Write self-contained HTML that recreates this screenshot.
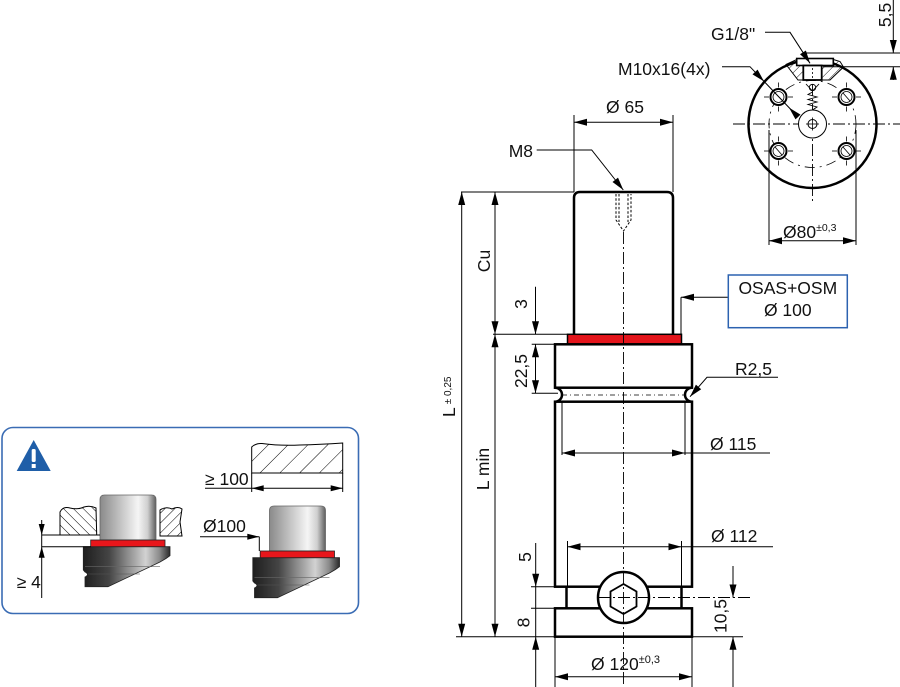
<!DOCTYPE html>
<html><head><meta charset="utf-8"><style>
html,body{margin:0;padding:0;background:#fff;}
svg{display:block;}
text{font-family:"Liberation Sans",sans-serif;fill:#111;font-size:17.5px;}
</style></head><body>
<svg width="900" height="687" viewBox="0 0 900 687" xmlns="http://www.w3.org/2000/svg">
<defs>
 <linearGradient id="rodG" x1="0" x2="1" y1="0" y2="0">
  <stop offset="0" stop-color="#8a8a8a"/><stop offset="0.2" stop-color="#a9a9a9"/><stop offset="0.68" stop-color="#f5f5f5"/><stop offset="0.85" stop-color="#cfcfcf"/><stop offset="1" stop-color="#5e5e5e"/>
 </linearGradient>
 <linearGradient id="bodyG" x1="0" x2="1" y1="0" y2="0">
  <stop offset="0" stop-color="#1e1e1e"/><stop offset="0.3" stop-color="#454545"/><stop offset="0.72" stop-color="#d2d2d2"/><stop offset="0.88" stop-color="#8a8a8a"/><stop offset="1" stop-color="#2a2a2a"/>
 </linearGradient>
 <pattern id="hL" width="7" height="7" patternUnits="userSpaceOnUse" patternTransform="rotate(-45)"><line x1="0" y1="0" x2="0" y2="7" stroke="#000" stroke-width="1"/></pattern>
 <pattern id="hR" width="7" height="7" patternUnits="userSpaceOnUse" patternTransform="rotate(45)"><line x1="0" y1="0" x2="0" y2="7" stroke="#000" stroke-width="1"/></pattern>
 <pattern id="hBig" width="14" height="14" patternUnits="userSpaceOnUse" patternTransform="rotate(45)"><line x1="0" y1="0" x2="0" y2="14" stroke="#000" stroke-width="1"/></pattern>
 <pattern id="hPort" width="6" height="6" patternUnits="userSpaceOnUse" patternTransform="rotate(45)"><line x1="0" y1="0" x2="0" y2="6" stroke="#000" stroke-width="0.9"/></pattern>
</defs>

<!-- ================= MAIN CYLINDER ================= -->
<g fill="none" stroke="#000">
 <path d="M574,334.3 L574,198 Q574,192 580,192 L667,192 Q673,192 673,198 L673,334.3" stroke-width="2.5" fill="#fff"/>
 <path d="M616,194 L616,220 L623.5,231 L631,220 L631,194 M619,194 L619,222 M628,194 L628,222" stroke-width="1" stroke-dasharray="2.5 1.8"/>
 <rect x="567.5" y="334.3" width="114" height="10" fill="#e4151c" stroke-width="1.5"/>
 <rect x="555" y="344.3" width="137" height="43.4" fill="#fff" stroke-width="2.5"/>
 <path d="M555,387.7 A7,7 0 0 1 555,401.7" stroke-width="2.5"/>
 <path d="M692,387.7 A7,7 0 0 0 692,401.7" stroke-width="2.5"/>
 <line x1="562" y1="395" x2="685" y2="395" stroke-width="0.8" stroke-dasharray="5 3 1 3"/>
 <rect x="555" y="401.7" width="137" height="185" fill="#fff" stroke-width="2.5"/>
 <line x1="566.5" y1="586.7" x2="566.5" y2="608.3" stroke-width="2.5"/>
 <line x1="681.5" y1="586.7" x2="681.5" y2="608.3" stroke-width="2.5"/>
 <rect x="555" y="608.3" width="137" height="28.4" fill="#fff" stroke-width="2.5"/>
 <circle cx="623.5" cy="597.5" r="25.5" fill="#fff" stroke-width="2.5"/>
 <polygon points="623.5,584 636.5,591.5 636.5,606.5 623.5,614 610.5,606.5 610.5,591.5" stroke-width="1.8"/>
 <line x1="623.5" y1="232" x2="623.5" y2="687" stroke-width="0.9" stroke-dasharray="12 3 2 3"/>
 <line x1="598" y1="597.5" x2="752" y2="597.5" stroke-width="0.9" stroke-dasharray="12 3 2 3"/>
</g>

<g stroke="#000" stroke-width="1" fill="none">
 <line x1="574" y1="115" x2="574" y2="192"/>
 <line x1="673" y1="115" x2="673" y2="192"/>
 <line x1="574" y1="122.3" x2="673" y2="122.3"/>
 <polyline points="536.7,150 591.7,150 623.3,190"/>
 <line x1="461" y1="192" x2="574" y2="192"/>
 <line x1="456" y1="636.7" x2="555" y2="636.7"/>
 <line x1="692" y1="636.7" x2="743" y2="636.7"/>
 <line x1="461.7" y1="192" x2="461.7" y2="636.7"/>
 <line x1="495" y1="192" x2="495" y2="636.7"/>
 <line x1="493" y1="334.3" x2="567.5" y2="334.3"/>
 <line x1="535.5" y1="286.7" x2="535.5" y2="334.3"/>
 <line x1="535.5" y1="344.3" x2="535.5" y2="393.3"/>
 <line x1="531.7" y1="344.3" x2="555" y2="344.3"/>
 <line x1="531.7" y1="393.3" x2="558" y2="393.3"/>
 <line x1="728" y1="297.3" x2="681" y2="297.3"/>
 <line x1="681" y1="297.3" x2="681" y2="334.3"/>
 <polyline points="778,377.3 707,377.3 690,396.7"/>
 <line x1="562" y1="401.7" x2="562" y2="455"/>
 <line x1="685" y1="401.7" x2="685" y2="455"/>
 <line x1="562" y1="453" x2="770" y2="453"/>
 <line x1="567.5" y1="541" x2="567.5" y2="587"/>
 <line x1="681.5" y1="541" x2="681.5" y2="587"/>
 <line x1="567.5" y1="546.7" x2="773" y2="546.7"/>
 <line x1="535.7" y1="543" x2="535.7" y2="687"/>
 <line x1="531" y1="586.7" x2="555" y2="586.7"/>
 <line x1="531" y1="608.3" x2="555" y2="608.3"/>
 <line x1="733" y1="566" x2="733" y2="597.5"/>
 <line x1="733" y1="636.7" x2="733" y2="687"/>
 <line x1="555" y1="637" x2="555" y2="687"/>
 <line x1="692" y1="637" x2="692" y2="687"/>
 <line x1="555" y1="676.7" x2="692" y2="676.7"/>
</g>

<g fill="#000" stroke="none">
 <polygon points="574,122.3 587,118.8 587,125.8"/>
 <polygon points="673,122.3 660,118.8 660,125.8"/>
 <polygon points="623.3,190 618,177.6 612.5,182"/>
 <polygon points="461.7,192 458.2,205 465.2,205"/>
 <polygon points="461.7,636.7 458.2,623.7 465.2,623.7"/>
 <polygon points="495,192 491.5,205 498.5,205"/>
 <polygon points="495,334.3 491.5,321.3 498.5,321.3"/>
 <polygon points="495,334.3 491.5,347.3 498.5,347.3"/>
 <polygon points="495,636.7 491.5,623.7 498.5,623.7"/>
 <polygon points="535.5,334.3 532,321.3 539,321.3"/>
 <polygon points="535.5,344.3 532,357.3 539,357.3"/>
 <polygon points="535.5,393.3 532,380.3 539,380.3"/>
 <polygon points="681,297.3 694,293.8 694,300.8"/>
 <polygon points="690,396.7 701.2,389.2 695.9,384.6"/>
 <polygon points="562,453 575,449.5 575,456.5"/>
 <polygon points="685,453 672,449.5 672,456.5"/>
 <polygon points="567.5,546.7 580.5,543.2 580.5,550.2"/>
 <polygon points="681.5,546.7 668.5,543.2 668.5,550.2"/>
 <polygon points="535.7,586.7 532.2,573.7 539.2,573.7"/>
 <polygon points="535.7,636.7 532.2,649.7 539.2,649.7"/>
 <polygon points="733,597.5 729.5,584.5 736.5,584.5"/>
 <polygon points="733,636.7 729.5,649.7 736.5,649.7"/>
 <polygon points="555,676.7 568,673.2 568,680.2"/>
 <polygon points="692,676.7 679,673.2 679,680.2"/>
</g>

<rect x="728.3" y="275" width="119" height="52.7" fill="#fff" stroke="#2c62b0" stroke-width="1.5"/>

<text x="625" y="113" text-anchor="middle">Ø 65</text>
<text x="533" y="157" text-anchor="end">M8</text>
<text x="787.8" y="294" text-anchor="middle">OSAS+OSM</text>
<text x="787.8" y="316" text-anchor="middle">Ø 100</text>
<text x="735" y="375">R2,5</text>
<text x="710" y="450">Ø 115</text>
<text x="711" y="542">Ø 112</text>
<text x="591" y="670">Ø 120<tspan font-size="11" dy="-7">±0,3</tspan></text>
<text transform="translate(484,261) rotate(-90)" text-anchor="middle" y="6">Cu</text>
<text transform="translate(521,304) rotate(-90)" text-anchor="middle" y="6">3</text>
<text transform="translate(521,371) rotate(-90)" text-anchor="middle" y="6">22,5</text>
<text transform="translate(483,469) rotate(-90)" text-anchor="middle" y="6">L min</text>
<text transform="translate(525,557) rotate(-90)" text-anchor="middle" y="6">5</text>
<text transform="translate(523.5,622.5) rotate(-90)" text-anchor="middle" y="6">8</text>
<text transform="translate(720.7,616) rotate(-90)" text-anchor="middle" y="6">10,5</text>
<text transform="translate(455,417) rotate(-90)" x="0" y="0" font-size="15">L<tspan font-size="10" dx="3" dy="-4">± 0,25</tspan></text>

<!-- ================= TOP-RIGHT VIEW ================= -->
<g fill="none" stroke="#000">
 <circle cx="812.5" cy="124" r="64" fill="#fff" stroke-width="2.5"/>
 <circle cx="812.5" cy="124" r="43.5" stroke-width="0.8" stroke-dasharray="10 5 2 5"/>
 <line x1="733" y1="124" x2="900" y2="124" stroke-width="0.9" stroke-dasharray="12 3 2 3"/>
 <line x1="812.5" y1="84" x2="812.5" y2="202" stroke-width="0.9" stroke-dasharray="12 3 2 3"/>
 <!-- port hatching -->
 <path d="M786,64.5 L796.7,59.5 L796.7,65.5 L803.3,65.5 L803.3,80 L798,80 Z" fill="url(#hPort)" stroke-width="1"/>
 <path d="M833.3,59.5 L840,61.5 L843.5,67 L830,80 L821.7,80 L821.7,65.5 L833.3,65.5 Z" fill="url(#hPort)" stroke-width="1"/>
 <rect x="796.7" y="58.5" width="36.6" height="7" fill="#fff" stroke-width="1.6"/>
 <rect x="803.3" y="65.5" width="18.4" height="14.5" fill="#fff" stroke-width="1.8"/>
 <line x1="812.5" y1="68" x2="812.5" y2="78" stroke-width="0.8" stroke-dasharray="2 2"/>
 <!-- valve + spring -->
 <path d="M806,84 L812.5,91 L819,84" stroke-width="0.9"/>
 <circle cx="812.5" cy="87.5" r="3.2" stroke-width="0.9"/>
 <polyline points="812.5,92 808,94.5 817,97 808,99.5 817,102 808,104.5 817,107 812.5,110" stroke-width="0.9"/>
 <circle cx="812.5" cy="124" r="14" fill="#fff" stroke-width="1"/>
 <circle cx="812.5" cy="124" r="4.5" stroke-width="1"/>
 <line x1="806" y1="124" x2="819" y2="124" stroke-width="0.8"/>
 <line x1="812.5" y1="117.5" x2="812.5" y2="130.5" stroke-width="0.8"/>
 <g stroke-width="0.8">
  <line x1="764" y1="97" x2="769" y2="97"/><line x1="788" y1="97" x2="793" y2="97"/><line x1="778.5" y1="82.5" x2="778.5" y2="87.5"/><line x1="778.5" y1="106.5" x2="778.5" y2="111.5"/>
  <line x1="832" y1="97" x2="837" y2="97"/><line x1="856" y1="97" x2="861" y2="97"/><line x1="846.5" y1="82.5" x2="846.5" y2="87.5"/><line x1="846.5" y1="106.5" x2="846.5" y2="111.5"/>
  <line x1="764" y1="151" x2="769" y2="151"/><line x1="788" y1="151" x2="793" y2="151"/><line x1="778.5" y1="136.5" x2="778.5" y2="141.5"/><line x1="778.5" y1="160.5" x2="778.5" y2="165.5"/>
  <line x1="832" y1="151" x2="837" y2="151"/><line x1="856" y1="151" x2="861" y2="151"/><line x1="846.5" y1="136.5" x2="846.5" y2="141.5"/><line x1="846.5" y1="160.5" x2="846.5" y2="165.5"/>
 </g>
 <g fill="#fff">
  <circle cx="778.5" cy="97" r="8" stroke-width="2"/>
  <circle cx="846.5" cy="97" r="8" stroke-width="2"/>
  <circle cx="778.5" cy="151" r="8" stroke-width="2"/>
  <circle cx="846.5" cy="151" r="8" stroke-width="2"/>
 </g>
 <g stroke-width="0.8">
  <circle cx="778.5" cy="97" r="5.5"/><circle cx="846.5" cy="97" r="5.5"/><circle cx="778.5" cy="151" r="5.5"/><circle cx="846.5" cy="151" r="5.5"/>
  <line x1="843" y1="93" x2="850" y2="101"/>
  <line x1="775" y1="147" x2="782" y2="155"/>
  <line x1="843" y1="147" x2="850" y2="155"/>
 </g>
 <g stroke-width="1">
  <polyline points="765,32.3 790,32.3 810,63.3"/>
  <polyline points="722,66.7 750,66.7 798,117"/>
  <line x1="803" y1="53" x2="900" y2="53"/>
  <line x1="823" y1="66.7" x2="900" y2="66.7"/>
  <line x1="893.3" y1="0" x2="893.3" y2="53"/>
  <line x1="893.3" y1="66.7" x2="893.3" y2="80"/>
  <line x1="769" y1="130" x2="769" y2="245"/>
  <line x1="856" y1="130" x2="856" y2="245"/>
  <line x1="769" y1="240.7" x2="856" y2="240.7"/>
 </g>
</g>
<g fill="#000">
 <polygon points="810,63.3 805.9,50.5 800,54.3"/>
 <polygon points="764,81.4 757.6,69.6 752.5,74.4"/>
 <polygon points="789,107.6 800.5,114.6 795.5,119.4"/>
 <polygon points="893.3,53 889.8,40 896.8,40"/>
 <polygon points="893.3,66.7 889.8,79.7 896.8,79.7"/>
 <polygon points="769,240.7 782,237.2 782,244.2"/>
 <polygon points="856,240.7 843,237.2 843,244.2"/>
</g>
<text x="711" y="40">G1/8"</text>
<text x="618" y="75">M10x16(4x)</text>
<text x="783" y="238">Ø80<tspan font-size="10.5" dy="-7">±0,3</tspan></text>
<text transform="translate(885,15) rotate(-90)" text-anchor="middle" y="6">5,5</text>

<!-- ================= LEFT INFO BOX ================= -->
<rect x="2" y="427.5" width="356.5" height="186" rx="11" ry="11" fill="#fff" stroke="#3a6cb4" stroke-width="1.6"/>
<polygon points="16.7,471 33.7,440 50.7,471" fill="#1f5ea8"/>
<rect x="31.7" y="449" width="4" height="13" rx="1.5" fill="#fff"/>
<rect x="31.7" y="464" width="4" height="4" fill="#fff"/>

<g id="cyl">
 <path d="M100,540 L100,499.5 Q100,495 104.5,495 L151.5,495 Q156,495 156,499.5 L156,540 Z" fill="url(#rodG)" stroke="#666" stroke-width="0.8"/>
 <path d="M83.3,546.7 L170,546.7 L170,555.7 L166,558.5 L160,562 L108,586.7 L85,586.7 L85,577 Q90,574.5 85,572 L83.3,570 Z" fill="url(#bodyG)" stroke="#222" stroke-width="0.8"/>
 <line x1="85" y1="566.7" x2="160" y2="566.7" stroke="#666" stroke-width="0.6"/>
 <line x1="88" y1="574" x2="140" y2="574" stroke="#555" stroke-width="0.6"/>
 <rect x="90.7" y="540" width="74.3" height="6.7" fill="#e8161b" stroke="#222" stroke-width="0.8"/>
</g>
<use href="#cyl" transform="translate(169.5,11)"/>

<path d="M60,535 L60,512 Q63,506 70,508 Q78,510 84,507 Q90,505 96,508 L96.7,535 Z" fill="url(#hL)" stroke="#000" stroke-width="1"/>
<path d="M160,536 L160,510 Q166,506 172,509 Q178,506 182,509 L180,522 L182,536 Z" fill="url(#hR)" stroke="#000" stroke-width="1"/>

<g stroke="#000" stroke-width="1">
 <line x1="41.7" y1="520" x2="41.7" y2="598"/>
 <line x1="41.7" y1="535" x2="100" y2="535"/>
 <line x1="41.7" y1="546.7" x2="91" y2="546.7"/>
</g>
<polygon points="41.7,535 38.7,524 44.7,524" fill="#000"/>
<polygon points="41.7,546.7 38.7,557.7 44.7,557.7" fill="#000"/>
<text x="16.7" y="588">≥ 4</text>

<path d="M251.7,473 L251.7,447 Q256,443 262,443.5 Q280,446 300,445 Q320,444.5 342.7,443 L342.7,473 Z" fill="url(#hBig)" stroke="#000" stroke-width="1"/>
<g stroke="#000" stroke-width="1">
 <line x1="251.7" y1="473" x2="251.7" y2="492"/>
 <line x1="342.7" y1="473" x2="342.7" y2="492"/>
 <line x1="205" y1="488.3" x2="342.7" y2="488.3"/>
 <line x1="200" y1="536.7" x2="259.3" y2="536.7"/>
 <line x1="259.3" y1="536.7" x2="259.3" y2="551"/>
</g>
<polygon points="251.7,488.3 263.7,485.3 263.7,491.3" fill="#000"/>
<polygon points="342.7,488.3 330.7,485.3 330.7,491.3" fill="#000"/>
<polygon points="259.3,536.7 247.3,533.7 247.3,539.7" fill="#000"/>
<text x="205" y="485">≥ 100</text>
<text x="203" y="532">Ø100</text>
</svg>
</body></html>
